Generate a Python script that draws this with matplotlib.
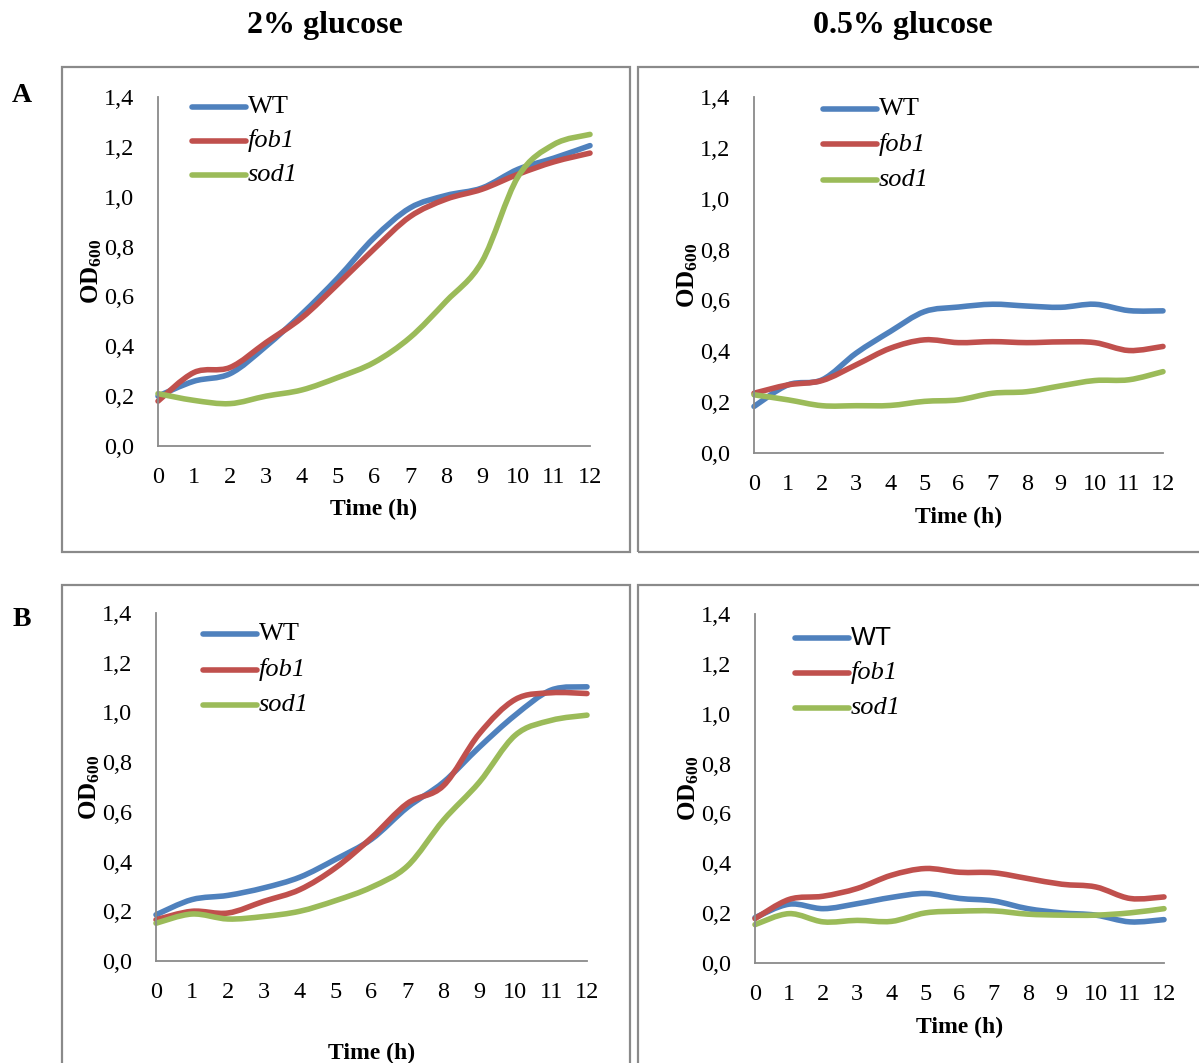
import numpy as np
import matplotlib
matplotlib.use("Agg")
import matplotlib.pyplot as plt
from matplotlib.path import Path
from matplotlib.patches import PathPatch, Rectangle

plt.rcParams['font.family'] = ['Liberation Serif', 'DejaVu Serif']
plt.rcParams['mathtext.fontset'] = 'custom'
plt.rcParams['mathtext.rm'] = 'Liberation Serif'
plt.rcParams['mathtext.bf'] = 'Liberation Serif:bold'

hours = list(range(13))
strains = ['WT', 'fob1', 'sod1']
colors = {'WT': '#4F81BD', 'fob1': '#C0504D', 'sod1': '#9BBB59'}

# A, 2% glucose
a_2_wt = [0.20, 0.26, 0.29, 0.40, 0.53, 0.675, 0.835, 0.955, 1.005, 1.035, 1.11, 1.155, 1.205]
a_2_fob1 = [0.18, 0.295, 0.315, 0.415, 0.515, 0.65, 0.79, 0.92, 0.99, 1.03, 1.09, 1.14, 1.175]
a_2_sod1 = [0.21, 0.183, 0.17, 0.20, 0.225, 0.275, 0.335, 0.435, 0.58, 0.74, 1.08, 1.21, 1.25]

# A, 0.5% glucose
a_05_wt = [0.183, 0.268, 0.288, 0.393, 0.478, 0.556, 0.574, 0.585, 0.578, 0.573, 0.585, 0.56, 0.559]
a_05_fob1 = [0.235, 0.268, 0.285, 0.347, 0.412, 0.445, 0.434, 0.438, 0.434, 0.437, 0.434, 0.403, 0.419]
a_05_sod1 = [0.229, 0.209, 0.186, 0.186, 0.187, 0.203, 0.209, 0.235, 0.241, 0.264, 0.285, 0.288, 0.32]

# B, 2% glucose
b_2_wt = [0.186, 0.247, 0.264, 0.294, 0.337, 0.409, 0.49, 0.618, 0.719, 0.86, 0.989, 1.09, 1.103]
b_2_fob1 = [0.166, 0.20, 0.193, 0.24, 0.287, 0.375, 0.496, 0.634, 0.705, 0.914, 1.052, 1.079, 1.076]
b_2_sod1 = [0.152, 0.189, 0.169, 0.179, 0.20, 0.243, 0.297, 0.382, 0.566, 0.719, 0.908, 0.968, 0.989]

# B, 0.5% glucose
b_05_wt = [0.182, 0.236, 0.218, 0.238, 0.263, 0.279, 0.259, 0.249, 0.218, 0.201, 0.192, 0.165, 0.174]
b_05_fob1 = [0.178, 0.255, 0.268, 0.299, 0.352, 0.379, 0.364, 0.362, 0.339, 0.316, 0.305, 0.259, 0.265]
b_05_sod1 = [0.154, 0.198, 0.165, 0.171, 0.167, 0.201, 0.208, 0.209, 0.196, 0.192, 0.192, 0.201, 0.218]

yticks = [0.0, 0.2, 0.4, 0.6, 0.8, 1.0, 1.2, 1.4]
ytick_labels = ['0,0', '0,2', '0,4', '0,6', '0,8', '1,0', '1,2', '1,4']


def smooth_path(x, y):
    # excel-like smoothed line: bezier segments through the points
    x = np.asarray(x, float)
    y = np.asarray(y, float)
    verts = [(x[0], y[0])]
    codes = [Path.MOVETO]
    n = len(x)
    for i in range(n - 1):
        x0, y0 = (x[i - 1], y[i - 1]) if i > 0 else (x[i], y[i])
        x3, y3 = (x[i + 2], y[i + 2]) if i + 2 < n else (x[i + 1], y[i + 1])
        c1 = (x[i] + (x[i + 1] - x0) / 6, y[i] + (y[i + 1] - y0) / 6)
        c2 = (x[i + 1] - (x3 - x[i]) / 6, y[i + 1] - (y3 - y[i]) / 6)
        verts += [c1, c2, (x[i + 1], y[i + 1])]
        codes += [Path.CURVE4] * 3
    return Path(verts, codes)


fig = plt.figure(figsize=(11.99, 10.63), dpi=100)

panels = [
    # rect, series, legend (x0 line, y of first row in px, row step), xlabel y
    ([158, 97, 590, 446], [a_2_wt, a_2_fob1, a_2_sod1], (192, 107, 34), 509),
    ([754, 97, 1163, 453], [a_05_wt, a_05_fob1, a_05_sod1], (823, 109, 35.5), 517),
    ([156, 613, 587, 961], [b_2_wt, b_2_fob1, b_2_sod1], (203, 634, 35.5), 1053),
    ([755, 614, 1164, 963], [b_05_wt, b_05_fob1, b_05_sod1], (795, 638, 35), 1027),
]

W, H = 1199, 1063

# frames around each chart
for (fx0, fy0, fx1, fy1) in [(62, 67, 630, 552), (638, 67, 1205, 552),
                             (62, 585, 630, 1075), (638, 585, 1205, 1075)]:
    fig.patches.append(Rectangle((fx0 / W, 1 - fy1 / H), (fx1 - fx0) / W, (fy1 - fy0) / H,
                                 transform=fig.transFigure, fill=False,
                                 edgecolor='#8a8a8a', linewidth=1.6))

for k, (rect, series, leg, xlab_y) in enumerate(panels):
    x0, y0, x1, y1 = rect
    ax = fig.add_axes([x0 / W, 1 - y1 / H, (x1 - x0) / W, (y1 - y0) / H])
    ax.set_xlim(0, 12)
    ax.set_ylim(0, 1.4)
    for s in ['top', 'right']:
        ax.spines[s].set_visible(False)
    for s in ['left', 'bottom']:
        ax.spines[s].set_color('#8a8a8a')
        ax.spines[s].set_linewidth(1.3)
    ax.set_xticks(hours)
    ax.set_xticklabels([str(h) for h in hours], fontsize=17.5)
    ax.set_yticks(yticks)
    ax.set_yticklabels(ytick_labels, fontsize=17.5)
    ax.tick_params(axis='x', length=0, pad=15)
    ax.tick_params(axis='y', length=0, pad=17)
    ax.patch.set_alpha(0)

    for name, vals in zip(strains, series):
        ax.add_patch(PathPatch(smooth_path(hours, vals), fill=False,
                               edgecolor=colors[name], linewidth=4.0,
                               capstyle='round', joinstyle='round', clip_on=False))

    ax.set_ylabel(r'$\mathbf{OD_{600}}$', fontsize=18, labelpad=0)
    fig.text((x0 + x1) / 2 / W, 1 - xlab_y / H, 'Time (h)', fontsize=17,
             fontweight='bold', ha='center', va='center')

    # legend drawn by hand to match the Excel layout
    lx, ly, dy = leg
    for j, name in enumerate(strains):
        yy = 1 - (ly + j * dy) / H
        fig.add_artist(plt.Line2D([lx / W, (lx + 54) / W], [yy, yy], transform=fig.transFigure,
                                  color=colors[name], linewidth=4.0, solid_capstyle='round'))
        style = 'normal' if name == 'WT' else 'italic'
        fam = ['Liberation Sans'] if (name == 'WT' and k == 3) else ['Liberation Serif']
        fig.text((lx + 56) / W, yy, name, fontsize=19, fontstyle=style, family=fam,
                 ha='left', va='center')

fig.text(325 / W, 1 - 25 / H, '2% glucose', fontsize=23, fontweight='bold', ha='center', va='center')
fig.text(903 / W, 1 - 25 / H, '0.5% glucose', fontsize=23, fontweight='bold', ha='center', va='center')
fig.text(22 / W, 1 - 95 / H, 'A', fontsize=20, fontweight='bold', ha='center', va='center')
fig.text(22 / W, 1 - 620 / H, 'B', fontsize=20, fontweight='bold', ha='center', va='center')

fig.savefig('out.png', dpi=100, facecolor='white')
